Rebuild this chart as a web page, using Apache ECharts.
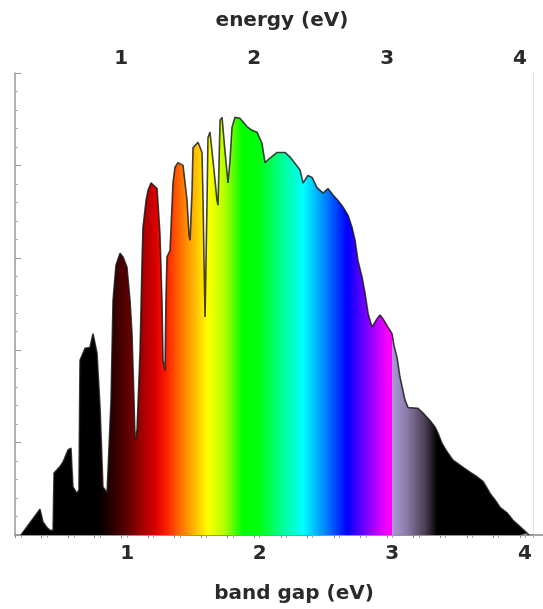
<!DOCTYPE html>
<html>
<head>
<meta charset="utf-8">
<script src="https://cdn.jsdelivr.net/npm/echarts@6/dist/echarts.min.js"></script>
<style>
html,body{margin:0;padding:0;background:#fff;}
#chart{width:543px;height:609px;}
</style>
</head>
<body>
<div id="chart"></div>
<script>
// ---- data (photon energy in eV, relative photon flux) ----
const energy = [0.20, 0.343, 0.366, 0.396, 0.419, 0.442, 0.449, 0.494, 0.517, 0.554,
  0.577, 0.585, 0.592, 0.622, 0.637, 0.645, 0.683, 0.720, 0.743, 0.758,
  0.773, 0.796, 0.818, 0.849, 0.864, 0.879, 0.894, 0.916, 0.947, 0.969,
  0.999, 1.022, 1.037, 1.052, 1.060, 1.075, 1.098, 1.113, 1.120, 1.143,
  1.158, 1.180, 1.195, 1.226, 1.248, 1.263, 1.271, 1.286, 1.293, 1.301,
  1.324, 1.346, 1.361, 1.384, 1.399, 1.422, 1.437, 1.452, 1.467, 1.475,
  1.490, 1.497, 1.535, 1.565, 1.573, 1.580, 1.588, 1.595, 1.603, 1.610,
  1.625, 1.648, 1.663, 1.678, 1.686, 1.701, 1.716, 1.738, 1.761, 1.776,
  1.791, 1.814, 1.851, 1.904, 1.942, 1.980, 2.017, 2.040, 2.078, 2.131,
  2.191, 2.229, 2.267, 2.304, 2.327, 2.364, 2.395, 2.432, 2.478, 2.515,
  2.553, 2.591, 2.628, 2.666, 2.696, 2.719, 2.741, 2.772, 2.794, 2.817,
  2.847, 2.885, 2.907, 2.930, 2.967, 2.998, 3.013, 3.036, 3.058, 3.096,
  3.119, 3.194, 3.232, 3.284, 3.322, 3.345, 3.375, 3.413, 3.458, 3.526,
  3.586, 3.639, 3.684, 3.714, 3.737, 3.775, 3.812, 3.865, 3.910, 3.963,
  4.016, 4.030];
const flux = [0, 0.28, 0.14, 0.08, 0.05, 0.05, 0.67, 0.74, 0.79, 0.92,
  0.94, 0.70, 0.52, 0.45, 0.49, 1.89, 2.02, 2.03, 2.18, 2.19,
  1.97, 1.38, 0.52, 0.46, 0.46, 1.46, 2.54, 2.92, 3.05, 3.01,
  2.90, 2.54, 2.18, 1.46, 1.03, 1.14, 2.00, 2.97, 3.33, 3.62,
  3.73, 3.81, 3.81, 3.75, 3.26, 2.54, 1.89, 1.78, 2.54, 3.01,
  3.08, 3.81, 3.98, 4.03, 4.05, 4.00, 3.81, 3.62, 3.24, 3.19,
  3.73, 4.19, 4.25, 4.14, 3.62, 2.97, 2.36, 2.36, 3.62, 4.30,
  4.36, 4.05, 3.84, 3.62, 3.57, 4.49, 4.52, 4.16, 3.81, 4.05,
  4.41, 4.52, 4.51, 4.42, 4.38, 4.36, 4.24, 4.03, 4.08, 4.14,
  4.14, 4.09, 4.02, 3.95, 3.81, 3.89, 3.87, 3.76, 3.70, 3.75,
  3.68, 3.62, 3.55, 3.46, 3.33, 3.19, 2.97, 2.79, 2.62, 2.40,
  2.25, 2.34, 2.38, 2.34, 2.25, 2.18, 2.05, 1.92, 1.71, 1.46,
  1.38, 1.37, 1.32, 1.24, 1.17, 1.10, 0.99, 0.90, 0.81, 0.74,
  0.68, 0.63, 0.58, 0.51, 0.45, 0.38, 0.30, 0.24, 0.16, 0.09,
  0.02, 0];
const tickLabels = [1, 2, 3, 4];
const topTitle = 'energy (eV)';
const bottomTitle = 'band gap (eV)';

// ---- style: colour of the fill as a function of energy ----
const spectrumColours = [
  [0.20, '#000000'], [0.78, '#000000'], [0.86, '#200000'], [1.00, '#5a0000'],
  [1.10, '#990000'], [1.22, '#dd0000'], [1.30, '#ff2000'], [1.42, '#ff7a00'],
  [1.52, '#ffc000'], [1.61, '#ffff00'], [1.73, '#b8ff00'], [1.87, '#00ff00'],
  [2.00, '#00ff10'], [2.16, '#00ff90'], [2.33, '#00ffff'], [2.50, '#0080ff'],
  [2.66, '#0000ff'], [2.81, '#8000ff'], [2.97, '#ff00ff'], [2.995, '#ff00ff'],
  [3.00, '#a898d4'], [3.10, '#8e7eae'], [3.25, '#4a3c52'], [3.34, '#000000'],
  [4.03, '#000000']
];

const e0 = energy[0], e1 = energy[energy.length - 1];
const stops = spectrumColours.map(([e, c]) => ({
  offset: Math.min(1, Math.max(0, (e - e0) / (e1 - e0))), color: c
}));

const fontFamily = 'DejaVu Sans';
const labelStyle = { fontFamily, fontSize: 20, fontWeight: 'bold', color: '#2a2a2a' };
const intFmt = v => {
  const r = Math.round(v);
  return (Math.abs(v - r) < 1e-6 && tickLabels.indexOf(r) >= 0) ? String(r) : '';
};

const chart = echarts.init(document.getElementById('chart'), null, { renderer: 'canvas' });
chart.setOption({
  animation: false,
  backgroundColor: '#ffffff',
  grid: [
    { left: 21, right: 10, top: 73, bottom: 74, outerBoundsMode: 'none' },
    { left: 15, right: 0, top: 73, bottom: 74, outerBoundsMode: 'none' }
  ],
  xAxis: [
    {
      gridIndex: 0, type: 'value', position: 'bottom',
      min: 0.2, max: 4.061, interval: 0.2,
      name: bottomTitle, nameLocation: 'middle', nameGap: 49,
      nameTextStyle: { fontFamily, fontSize: 20, fontWeight: 'bold', color: '#2a2a2a', padding: [0, 0, 0, 34] },
      axisLine: { show: true, lineStyle: { color: '#b8b8b8', width: 2 } },
      axisTick: { show: true, inside: false, length: 3, lineStyle: { color: '#aaaaaa' } },
      axisLabel: Object.assign({ formatter: intFmt, margin: 9, showMinLabel: true, showMaxLabel: true }, labelStyle),
      splitLine: { show: false }
    },
    {
      gridIndex: 1, type: 'value', position: 'top',
      min: 0.2, max: 4.173, interval: 0.2,
      name: topTitle, nameLocation: 'middle', nameGap: 42,
      nameTextStyle: { fontFamily, fontSize: 20, fontWeight: 'bold', color: '#2a2a2a', padding: [0, 0, 0, 6] },
      axisLine: { show: true, lineStyle: { color: '#888888', width: 1.5 } },
      axisTick: { show: true, inside: true, length: 3, lineStyle: { color: '#888888' } },
      axisLabel: Object.assign({ formatter: intFmt, margin: 4 }, labelStyle),
      splitLine: { show: false }
    }
  ],
  yAxis: [
    {
      gridIndex: 0, type: 'value', position: 'right', min: 0, max: 5, interval: 1,
      axisLine: { show: true, lineStyle: { color: '#e4e4e4', width: 1 } },
      axisTick: { show: false }, axisLabel: { show: false }, splitLine: { show: false }
    },
    {
      gridIndex: 1, type: 'value', position: 'left', min: 0, max: 5, interval: 1,
      axisLine: { show: true, lineStyle: { color: '#999999', width: 1.5 } },
      axisTick: { show: true, inside: true, length: 6, lineStyle: { color: '#999999' } },
      minorTick: { show: true, splitNumber: 5, length: 3, lineStyle: { color: '#aaaaaa' } },
      axisLabel: { show: false }, splitLine: { show: false }
    }
  ],
  series: [{
    type: 'line',
    xAxisIndex: 0, yAxisIndex: 0,
    data: energy.map((e, i) => [e, flux[i]]),
    showSymbol: false, symbol: 'none', smooth: false, silent: true,
    lineStyle: { color: 'rgba(20,20,20,0.8)', width: 1.6 },
    areaStyle: { opacity: 1, color: new echarts.graphic.LinearGradient(0, 0, 1, 0, stops) },
    z: 3
  }]
});
</script>
</body>
</html>
